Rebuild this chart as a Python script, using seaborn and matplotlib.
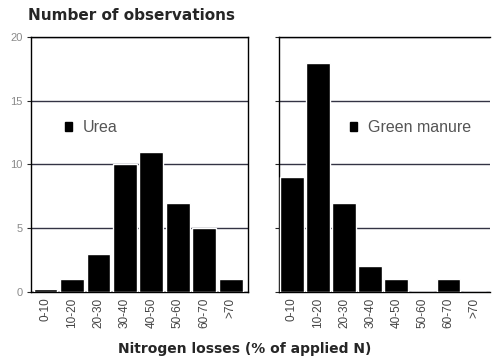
import numpy as np
import pandas as pd
import matplotlib
matplotlib.use('Agg')
import matplotlib.pyplot as plt
from matplotlib.patches import Patch
import seaborn as sns

sns.set_style("white")
plt.rcParams['font.family'] = ['Liberation Sans', 'DejaVu Sans']

# 数据
classes = ['0-10', '10-20', '20-30', '30-40', '40-50', '50-60', '60-70', '>70']
urea = [0.2, 1, 3, 10, 11, 7, 5, 1]
green_manure = [9, 18, 7, 2, 1, 0, 1, 0]

fig = plt.figure(figsize=(4.92, 3.63), dpi=100)
ax1 = fig.add_axes([0.063, 0.196, 0.441, 0.702])
ax2 = fig.add_axes([0.567, 0.196, 0.429, 0.702])

tick_grey = '#8a8a8a'
n = len(classes)
for ax, vals, label, xlim, legx in [
        (ax1, urea, 'Urea', (-0.55, 7.65), 0.155),
        (ax2, green_manure, 'Green manure', (-0.45, 7.6), 0.335)]:
    df = pd.DataFrame({'cls': classes, 'n': vals})
    sns.barplot(data=df, x='cls', y='n', color='black', saturation=1,
                width=0.9, ax=ax, zorder=3)
    ax.set_ylim(0, 20)
    ax.set_xlim(*xlim)
    ax.set_yticks([0, 5, 10, 15, 20])
    ax.yaxis.grid(True, color='#333344', linewidth=1.0, zorder=0)
    ax.set_xlabel('')
    ax.set_ylabel('')
    # 刻度线在类别边界，标签在类别中心
    ax.set_xticks(np.arange(n + 1) - 0.5)
    ax.set_xticklabels([])
    ax.set_xticks(np.arange(n), minor=True)
    ax.set_xticklabels(classes, minor=True)
    ax.tick_params(axis='x', which='major', length=3, colors='black')
    ax.tick_params(axis='x', which='minor', length=0, labelrotation=90,
                   labelsize=8.5, labelcolor='#444444', pad=4)
    ax.tick_params(axis='y', labelsize=8, labelcolor=tick_grey, length=3,
                   left=True, direction='out', pad=3)
    for s in ax.spines.values():
        s.set_color('black')
        s.set_linewidth(1.0)
    ax.legend(handles=[Patch(facecolor='black', edgecolor='black')], labels=[label],
              loc='center left', bbox_to_anchor=(legx, 0.645), frameon=False,
              borderpad=0, borderaxespad=0,
              handlelength=0.45, handleheight=0.45, handletextpad=0.7,
              prop={'size': 11.5}, labelcolor='#555555')

ax2.set_yticklabels([])
ax2.spines['right'].set_visible(False)

fig.text(0.057, 0.945, 'Number of observations', fontsize=11, fontweight='bold',
         family='DejaVu Sans')
fig.text(0.497, 0.028, 'Nitrogen losses (% of applied N)', fontsize=10,
         fontweight='bold', ha='center', family='DejaVu Sans')

plt.savefig('out.png', dpi=100)
plt.close()
